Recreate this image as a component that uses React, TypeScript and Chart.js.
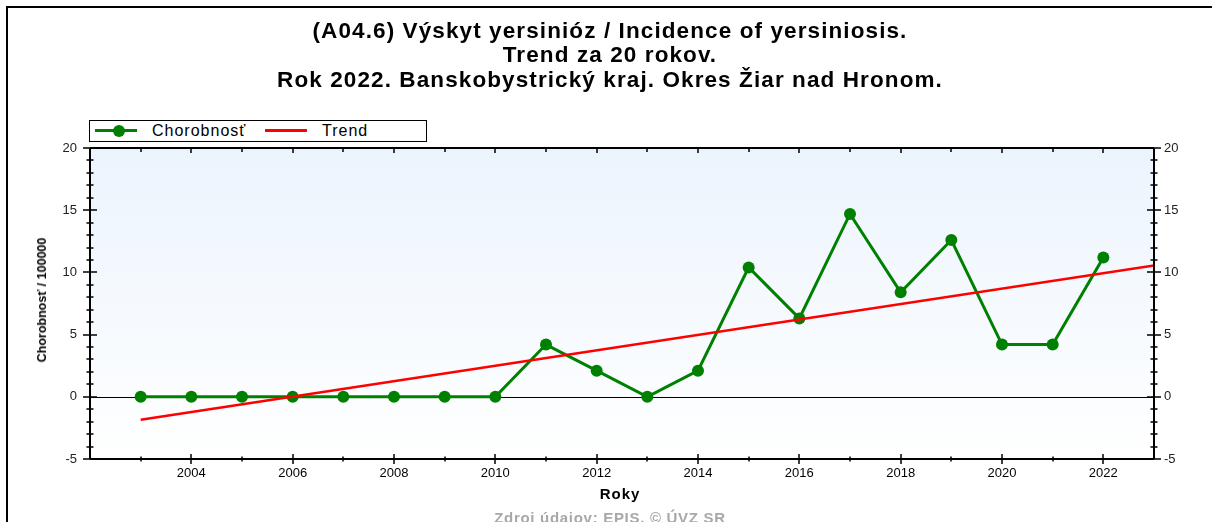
import { useEffect, useRef } from "react";
import { Chart, registerables } from "chart.js";

Chart.register(...registerables);

const titleLines = [
  "(A04.6) Výskyt yersinióz / Incidence of yersiniosis.",
  "Trend za 20 rokov.",
  "Rok 2022. Banskobystrický kraj. Okres Žiar nad Hronom.",
];
const years = [
  2003, 2004, 2005, 2006, 2007, 2008, 2009, 2010, 2011, 2012,
  2013, 2014, 2015, 2016, 2017, 2018, 2019, 2020, 2021, 2022,
];
const incidence = [
  0, 0, 0, 0, 0, 0, 0, 0, 4.2, 2.1,
  0, 2.1, 10.4, 6.3, 14.7, 8.4, 12.6, 4.2, 4.2, 11.2,
];
const trendYears = [2003, 2023];
const trendValues = [-1.85, 10.55];
const seriesLabel = "Chorobnosť";
const trendLabel = "Trend";
const xAxisTitle = "Roky";
const yAxisTitle = "Chorobnosť / 100000";
const sourceNote = "Zdroj údajov: EPIS, © ÚVZ SR";
const xMin = 2002;
const xMax = 2023;
const yMin = -5;
const yMax = 20;
const yTickStep = 5;

const FONT = '"Liberation Sans", Arial, sans-serif';
const GREEN = "#008000";
const RED = "#ff0000";

const decorPlugin = {
  id: "decor",
  beforeDraw(chart: any) {
    const { ctx, chartArea: a } = chart;
    const g = ctx.createLinearGradient(0, a.top, 0, a.bottom);
    g.addColorStop(0, "#ebf4fd");
    g.addColorStop(1, "#ffffff");
    ctx.save();
    ctx.fillStyle = g;
    ctx.fillRect(a.left, a.top, a.right - a.left, a.bottom - a.top);
    ctx.restore();
  },
  beforeDatasetsDraw(chart: any) {
    const { ctx, chartArea: a, scales } = chart;
    const py = Math.round(scales.y.getPixelForValue(0)) + 0.5;
    ctx.save();
    ctx.strokeStyle = "#000";
    ctx.lineWidth = 1;
    ctx.beginPath();
    ctx.moveTo(a.left, py);
    ctx.lineTo(a.right, py);
    ctx.stroke();
    ctx.restore();
  },
  afterDraw(chart: any) {
    const { ctx, chartArea: a, scales } = chart;
    const x = scales.x;
    const y = scales.y;
    ctx.save();
    ctx.strokeStyle = "#000";
    ctx.lineWidth = 2;
    ctx.beginPath();
    ctx.moveTo(a.left, a.top);
    ctx.lineTo(a.right, a.top);
    ctx.moveTo(a.left, a.top);
    ctx.lineTo(a.left, a.bottom);
    ctx.moveTo(a.right, a.top);
    ctx.lineTo(a.right, a.bottom);
    ctx.moveTo(a.left, a.bottom);
    ctx.lineTo(a.right, a.bottom);
    ctx.stroke();
    ctx.lineWidth = 1.5;
    ctx.beginPath();
    for (let v = yMin; v <= yMax; v++) {
      const py = Math.round(y.getPixelForValue(v));
      const h = v % yTickStep === 0 ? 7 : 3.5;
      ctx.moveTo(a.left - h, py);
      ctx.lineTo(a.left + h, py);
      ctx.moveTo(a.right - h, py);
      ctx.lineTo(a.right + h, py);
    }
    for (let v = xMin + 1; v < xMax; v++) {
      const px = Math.round(x.getPixelForValue(v));
      const major = v % 2 === 0;
      const h = major ? 5 : 2.5;
      ctx.moveTo(px, a.bottom - h);
      ctx.lineTo(px, a.bottom + h);
      ctx.moveTo(px, a.top);
      ctx.lineTo(px, a.top + (major ? 5 : 4));
    }
    ctx.stroke();
    ctx.restore();
  },
};

export default function App() {
  const ref = useRef<HTMLCanvasElement>(null);

  useEffect(() => {
    if (!ref.current) return;
    const tickFont = { family: FONT, size: 13 };
    const chart = new Chart(ref.current, {
      type: "line",
      data: {
        datasets: [
          {
            label: seriesLabel,
            data: years.map((yr, i) => ({ x: yr, y: incidence[i] })),
            borderColor: GREEN,
            backgroundColor: GREEN,
            borderWidth: 3,
            pointRadius: 6,
            pointBorderWidth: 0,
            pointBackgroundColor: GREEN,
            tension: 0,
            order: 1,
          },
          {
            label: trendLabel,
            data: trendYears.map((yr, i) => ({ x: yr, y: trendValues[i] })),
            borderColor: RED,
            backgroundColor: RED,
            borderWidth: 2.5,
            pointRadius: 0,
            tension: 0,
            order: 0,
          },
        ],
      },
      options: {
        animation: false,
        responsive: false,
        devicePixelRatio: 1,
        layout: { padding: { top: 148, left: 0, right: 0, bottom: 0 } },
        plugins: {
          legend: { display: false },
          title: { display: false },
          tooltip: { enabled: false },
        },
        scales: {
          x: {
            type: "linear",
            position: "bottom",
            min: xMin,
            max: xMax,
            grid: { display: false, drawTicks: false },
            border: { display: false },
            ticks: {
              stepSize: 1,
              autoSkip: false,
              maxRotation: 0,
              padding: 7,
              color: "#000",
              font: tickFont,
              callback: (v: any) => (Number(v) % 2 === 0 && v > xMin ? String(v) : ""),
            },
            afterFit: (s: any) => {
              s.height = 63;
            },
          },
          y: {
            type: "linear",
            position: "left",
            min: yMin,
            max: yMax,
            grid: { display: false, drawTicks: false },
            border: { display: false },
            ticks: { stepSize: yTickStep, padding: 13, color: "#222", font: tickFont },
            afterFit: (s: any) => {
              s.width = 90;
            },
          },
          y2: {
            type: "linear",
            position: "right",
            min: yMin,
            max: yMax,
            grid: { display: false, drawTicks: false },
            border: { display: false },
            ticks: { stepSize: yTickStep, padding: 10, color: "#222", font: tickFont },
            afterFit: (s: any) => {
              s.width = 58;
            },
          },
        },
      },
      plugins: [decorPlugin],
    });
    return () => chart.destroy();
  }, []);

  const titleTops = [19, 43, 68];

  return (
    <div
      style={{
        position: "absolute",
        left: 0,
        top: 0,
        width: 1212,
        height: 522,
        overflow: "hidden",
        background: "#fff",
        fontFamily: FONT,
        color: "#000",
      }}
    >
      <div
        style={{
          position: "absolute",
          left: 6,
          top: 6,
          width: 1400,
          height: 700,
          borderTop: "2px solid #000",
          borderLeft: "2px solid #000",
        }}
      />
      <canvas ref={ref} width={1212} height={522} style={{ position: "absolute", left: 0, top: 0 }} />
      {titleLines.map((t, i) => (
        <div
          key={i}
          style={{
            position: "absolute",
            left: 0,
            top: titleTops[i],
            width: 1220,
            textAlign: "center",
            fontSize: 22.5,
            lineHeight: "24px",
            fontWeight: "bold",
            letterSpacing: 1.1,
            whiteSpace: "nowrap",
          }}
        >
          {t}
        </div>
      ))}
      <div
        style={{
          position: "absolute",
          left: 89,
          top: 120,
          width: 338,
          height: 22,
          boxSizing: "border-box",
          border: "1px solid #000",
          background: "#fff",
        }}
      />
      <div style={{ position: "absolute", left: 95, top: 129, width: 42, height: 3, background: GREEN }} />
      <div
        style={{
          position: "absolute",
          left: 113,
          top: 125,
          width: 12,
          height: 12,
          borderRadius: 6,
          background: GREEN,
        }}
      />
      <div
        style={{
          position: "absolute",
          left: 152,
          top: 121,
          height: 20,
          lineHeight: "20px",
          fontSize: 16,
          letterSpacing: 1,
          whiteSpace: "nowrap",
        }}
      >
        {seriesLabel}
      </div>
      <div style={{ position: "absolute", left: 265, top: 129, width: 42, height: 3, background: RED }} />
      <div
        style={{
          position: "absolute",
          left: 322,
          top: 121,
          height: 20,
          lineHeight: "20px",
          fontSize: 16,
          letterSpacing: 1,
          whiteSpace: "nowrap",
        }}
      >
        {trendLabel}
      </div>
      <div
        style={{
          position: "absolute",
          left: 520,
          top: 485,
          width: 200,
          textAlign: "center",
          fontSize: 15,
          lineHeight: "18px",
          fontWeight: "bold",
          letterSpacing: 1,
        }}
      >
        {xAxisTitle}
      </div>
      <div
        style={{
          position: "absolute",
          left: 42,
          top: 300,
          transform: "translate(-50%, -50%) rotate(-90deg)",
          fontSize: 12.5,
          fontWeight: "bold",
          whiteSpace: "nowrap",
        }}
      >
        {yAxisTitle}
      </div>
      <div
        style={{
          position: "absolute",
          left: 410,
          top: 509,
          width: 400,
          textAlign: "center",
          fontSize: 15,
          lineHeight: "18px",
          fontWeight: "bold",
          letterSpacing: 0.7,
          color: "#a8a8a8",
          whiteSpace: "nowrap",
        }}
      >
        {sourceNote}
      </div>
    </div>
  );
}
